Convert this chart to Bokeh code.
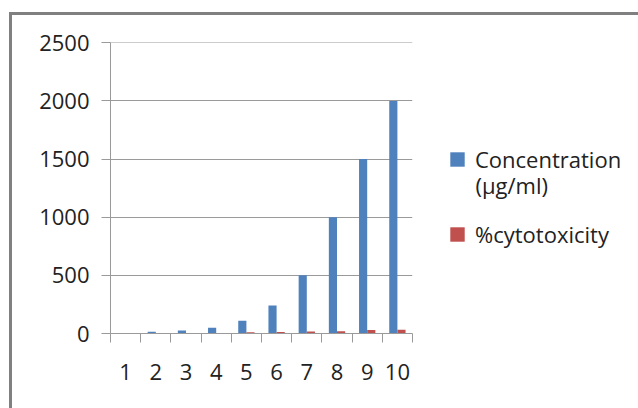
from bokeh.plotting import figure
from bokeh.models import (Range1d, FixedTicker, Legend, LegendItem, Label)
from bokeh.layouts import row
from bokeh.embed import file_html
from bokeh.resources import INLINE

categories = [1, 2, 3, 4, 5, 6, 7, 8, 9, 10]
concentration = [0, 15, 25, 50, 110, 240, 500, 1000, 1500, 2000]
cytotoxicity = [0, 2, 3, 4, 10, 12, 18, 20, 30, 32]
y_ticks = [0, 500, 1000, 1500, 2000, 2500]
series_names = ["Concentration", "(µg/ml)", "%cytotoxicity"]

BLUE = "#4F81BD"
RED = "#C0504D"
FONT = "Open Sans"
TEXT = "#222222"
GRID = "#9a9a9a"
FS = "22px"

p = figure(width=440, height=408, output_backend="svg", toolbar_location=None,
           x_range=Range1d(0.5, 10.5), y_range=Range1d(0, 2502),
           min_border_left=110, min_border_right=28, min_border_top=42,
           min_border_bottom=75)
p.outline_line_color = None
p.background_fill_color = "white"
p.border_fill_alpha = 0

bw = 0.27
off = 0.135
xb = [c - off for c in categories]
xr = [c + off for c in categories]
p.vbar(x=xb, top=concentration, width=bw, fill_color=BLUE, line_color=None)
p.vbar(x=xr, top=cytotoxicity, width=bw, fill_color=RED, line_color=None)

p.xaxis.ticker = FixedTicker(ticks=categories,
                             minor_ticks=[c - 0.5 for c in categories] + [10.5])
p.xaxis.major_tick_out = 0
p.xaxis.major_tick_in = 0
p.xaxis.minor_tick_out = 9
p.xaxis.minor_tick_in = 0
p.xaxis.minor_tick_line_color = GRID
p.xaxis.axis_line_color = GRID
p.xaxis.major_label_standoff = 21

p.yaxis.ticker = FixedTicker(ticks=y_ticks)
p.yaxis.minor_tick_line_color = None
p.yaxis.major_tick_out = 9
p.yaxis.major_tick_in = 0
p.yaxis.major_tick_line_color = GRID
p.yaxis.axis_line_color = GRID
p.yaxis.major_label_standoff = 12

for ax in (p.xaxis, p.yaxis):
    ax.major_label_text_font = FONT
    ax.major_label_text_font_size = FS
    ax.major_label_text_color = TEXT

p.xgrid.grid_line_color = None
p.ygrid.grid_line_color = GRID
p.ygrid.grid_line_width = 1

# legend panel (its ranges sit away from the data, so only the legend shows)
lg = figure(width=198, height=408, output_backend="svg", toolbar_location=None,
            x_range=Range1d(-20, -19), y_range=Range1d(-20, -19),
            min_border=0, min_border_left=0, min_border_right=0,
            min_border_top=0, min_border_bottom=0)
lg.axis.visible = False
lg.grid.visible = False
lg.outline_line_color = None
lg.background_fill_alpha = 0
lg.border_fill_alpha = 0
rb = lg.vbar(x=xb, top=concentration, width=bw, fill_color=BLUE, line_color=None)
rr = lg.vbar(x=xr, top=cytotoxicity, width=bw, fill_color=RED, line_color=None)


def make_legend(label, rend, loc):
    return Legend(items=[LegendItem(label=label, renderers=[rend])],
                  location=loc, orientation="vertical",
                  label_text_font=FONT, label_text_font_size=FS,
                  label_text_color=TEXT, glyph_width=18, glyph_height=18,
                  background_fill_alpha=0, border_line_color=None,
                  label_standoff=9, margin=0, padding=0)


lg.add_layout(make_legend(series_names[0], rb, (8, 159)))
lg.add_layout(make_legend(series_names[2], rr, (8, 84)))
lg.add_layout(Label(x=35, y=149, x_units="screen", y_units="screen",
                    text=series_names[1], text_font=FONT, text_font_size=FS,
                    text_color=TEXT, text_baseline="middle", text_align="left"))

layout = row(p, lg, spacing=0)
layout.styles = {
    "background": ("linear-gradient(#808080,#808080) 9px 12px / 3px 420px no-repeat, "
                   "linear-gradient(#808080,#808080) 9px 12px / 700px 3px no-repeat, "
                   "white")
}

open("out.html", "w").write(file_html(layout, INLINE))
